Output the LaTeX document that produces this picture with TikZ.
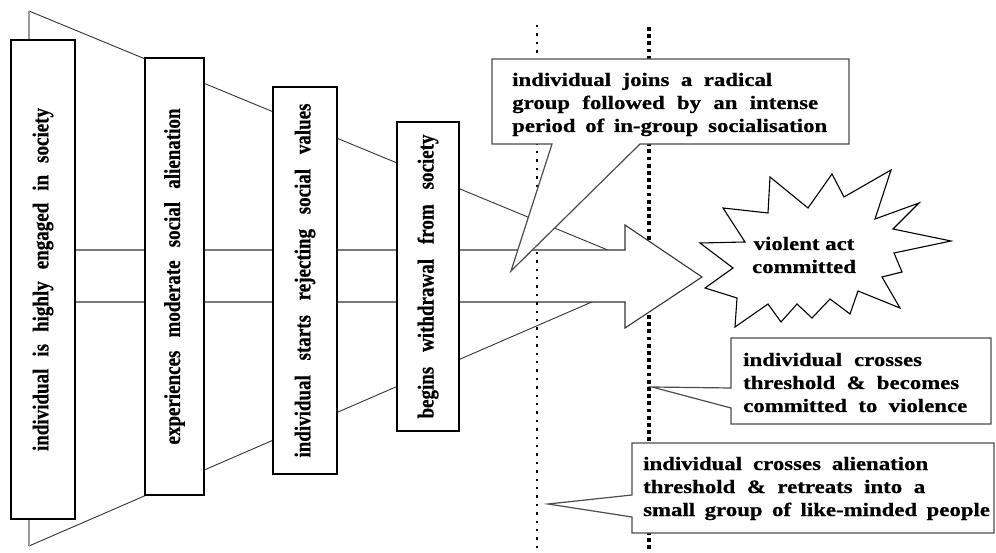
\documentclass[tikz,border=0pt]{standalone}
\usepackage{fontspec}
\setmainfont{Liberation Serif}[BoldFeatures={FakeBold=0.6}]
\usepackage{graphicx}
% rotated stage label, stretched to a given length
\newcommand\stagetext[2]{\scalebox{1.2}[1]{\rotatebox{90}{\makebox[#1][s]{#2}}}}
% one justified line of a callout
\newcommand\wideline[2]{\makebox[#1][s]{#2}}
\begin{document}
\begin{tikzpicture}[x=1pt,y=-1pt,
  txt/.style={inner sep=0pt, font=\fontsize{19}{23}\selectfont\bfseries},
  stagebox/.style={draw=black, line width=1.4pt, fill=white, inner sep=0pt,
    font=\fontsize{19}{23}\selectfont\bfseries},
  funnelline/.style={draw=black!80, line width=0.9pt},
  funneledge/.style={draw=black!40, line width=1.6pt},
  bigarrow/.style={draw=black!80, line width=1.1pt, fill=white, line join=miter},
  callout/.style={draw=black!70, line width=1.2pt, fill=white, line join=miter},
  burst/.style={draw=black, line width=1.1pt, fill=white, line join=miter},
  thinthreshold/.style={draw=black, line width=2.4pt, dash pattern=on 2.4pt off 6pt},
  thickthreshold/.style={draw=black, line width=3.8pt, dash pattern=on 3.8pt off 3.4pt}
]
\useasboundingbox (0,0) rectangle (996,553);
\fill[white] (0,0) rectangle (996,553);

% narrowing funnel behind the stages
\coordinate (ftop) at (29,11);
\coordinate (fbot) at (29,546);
\coordinate (fapex) at (661,272);
\draw[funnelline] (ftop) -- (fapex) -- (fbot);
\draw[funneledge] (ftop) -- (fbot);

% commitment threshold (heavy dots)
\coordinate (thA) at (649,27);
\coordinate (thB) at (649,553);
\draw[thickthreshold] (thA) -- (thB);

% progression arrow
\draw[bigarrow] (60,250) -- (625,250) -- (625,225) -- (702,277) -- (625,328)
  -- (625,302) -- (60,302) -- cycle;

% alienation threshold (light dots)
\coordinate (tlA) at (537,25);
\coordinate (tlB) at (537,553);
\draw[thinthreshold] (tlA) -- (tlB);

% stages
\node[stagebox, minimum width=64pt, minimum height=479pt] (b1) at (43,279.5)
  {\stagetext{343pt}{individual is highly engaged in society}};
\node[stagebox, minimum width=59pt, minimum height=437pt] (b2) at (174.5,276.5)
  {\stagetext{336pt}{experiences moderate social alienation}};
\node[stagebox, minimum width=64pt, minimum height=387pt] (b3) at (305,280.5)
  {\stagetext{354pt}{individual starts rejecting social values}};
\node[stagebox, minimum width=62pt, minimum height=309pt] (b4) at (428,276.5)
  {\stagetext{284pt}{begins withdrawal from society}};

% callout: radical group
\draw[callout] (492,59) -- (849,59) -- (849,144) -- (640,144) -- (511,271)
  -- (552,144) -- (492,144) -- cycle;
\node[txt, anchor=base west] (c1) at (512,86)
  {\scalebox{1.2}[1]{\begin{tabular}[t]{@{}l@{}}
   \wideline{216.7pt}{individual joins a radical}\\
   \wideline{255pt}{group followed by an intense}\\
   \wideline{262.5pt}{period of in-group socialisation}
   \end{tabular}}};

% callout: commitment threshold
\draw[callout] (731,338) -- (991,338) -- (991,424) -- (731,424) -- (731,408)
  -- (652,387) -- (731,388) -- cycle;
\node[txt, anchor=base west] (c2) at (743,366)
  {\scalebox{1.2}[1]{\begin{tabular}[t]{@{}l@{}}
   \wideline{149pt}{individual crosses}\\
   \wideline{180pt}{threshold \& becomes}\\
   \wideline{186.7pt}{committed to violence}
   \end{tabular}}};

% callout: alienation threshold
\draw[callout] (632,443) -- (994,443) -- (994,533) -- (632,533) -- (632,517)
  -- (548,504) -- (632,495) -- cycle;
\node[txt, anchor=base west] (c3) at (643,470)
  {\scalebox{1.2}[1]{\begin{tabular}[t]{@{}l@{}}
   \wideline{237.5pt}{individual crosses alienation}\\
   \wideline{235pt}{threshold \& retreats into a}\\
   \wideline{289pt}{small group of like-minded people}
   \end{tabular}}};

% violent act burst
\draw[burst] (770,177) -- (808,208) -- (832,174) -- (844,197) -- (891,170)
  -- (875,219) -- (919,203) -- (893,229) -- (951,241) -- (894,253)
  -- (902,272) -- (882,277) -- (900,308) -- (858,291) -- (850,314)
  -- (830,299) -- (812,318) -- (797,304) -- (781,322) -- (768,304)
  -- (735,327) -- (737,298) -- (705,288) -- (733,268) -- (700,243)
  -- (745,242) -- (723,208) -- (768,213) -- cycle;
\node[txt, anchor=base] (act) at (804,250)
  {\scalebox{1.2}[1]{\begin{tabular}[t]{@{}c@{}}violent act\\committed\end{tabular}}};
\end{tikzpicture}
\end{document}
